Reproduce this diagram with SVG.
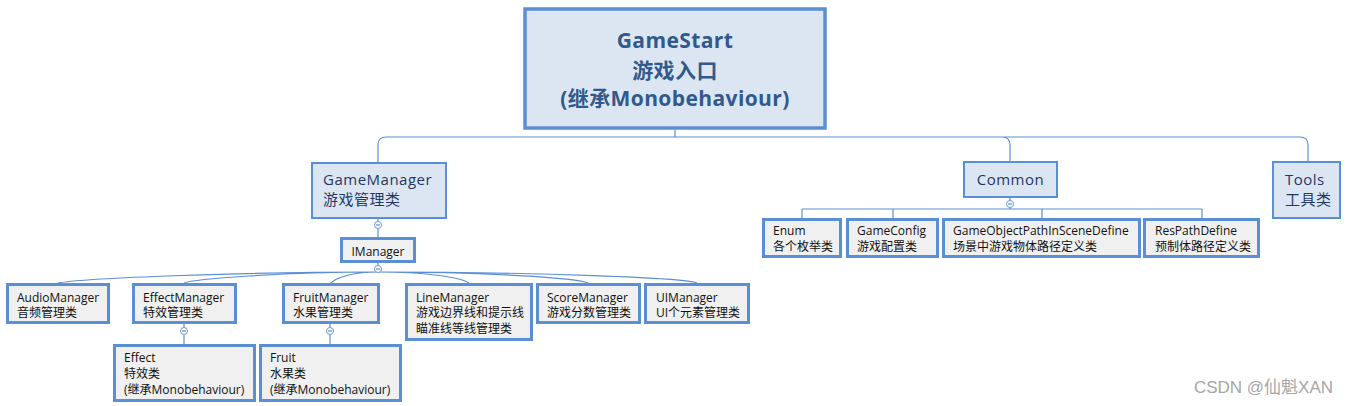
<svg xmlns="http://www.w3.org/2000/svg" width="1348" height="406" viewBox="0 0 1348 406">
<style>
.root{fill:#dce6f2;stroke:#5b8fd5;stroke-width:3.5}
.l1{fill:#dce6f2;stroke:#5b8fd5;stroke-width:2}
.leaf{fill:#f0f0f0;stroke:#5b8fd5;stroke-width:3}
.rt{font-family:"Open Sans","Noto Sans CJK SC",sans-serif;font-weight:bold;font-size:21px;fill:#31598c;text-anchor:middle;letter-spacing:0.4px}
.t1{font-family:"Open Sans","Noto Sans CJK SC",sans-serif;font-size:15px;fill:#1f3864;letter-spacing:0.5px}
.t2{font-family:"Open Sans","Noto Sans CJK SC",sans-serif;font-size:12px;fill:#111}
.cn{fill:none;stroke:#5b8fd5;stroke-width:1.2}
.knob{fill:#fff;stroke:#6b9ad8;stroke-width:1}
.wm{font-family:"Liberation Sans","Noto Sans CJK SC",sans-serif;font-size:17px;fill:#a6a6a6;text-anchor:end}
</style>
<g id="connectors">
<path class="cn" d="M675 130V137M386 137H1300M378 162V145Q378 137 386 137M1002 137Q1010 137 1010 145V161M1300 137Q1308 137 1308 145V161"/>
<path class="cn" d="M378 219V237M378 263V270"/>
<path class="cn" d="M378 272C218 272 78 279 58 283M378 272C281 272 194 279 184 283M378 272C355 272 336 277 331 283M378 272C424 272 460 277 469 283M378 272C483 272 578 278 588 283M378 272C538 272 687 278 697 283"/>
<path class="cn" d="M184 324V344M330 324V344"/>
<path class="cn" d="M1010 198V209M802 209H1202M802 209V218M893 209V218M1042 209V218M1202 209V218"/>
<g>
<circle class="knob" cx="378" cy="225" r="3.5"/><path class="cn" d="M376 225H380"/>
<circle class="knob" cx="378" cy="269" r="3.5"/><path class="cn" d="M376 269H380"/>
<circle class="knob" cx="184" cy="331" r="3.5"/><path class="cn" d="M182 331H186"/>
<circle class="knob" cx="330" cy="331" r="3.5"/><path class="cn" d="M328 331H332"/>
<circle class="knob" cx="1010" cy="204" r="3.5"/><path class="cn" d="M1008 204H1012"/>
</g>
</g>
<g id="GameStart">
<rect class="root" x="525" y="9" width="300" height="119"/>
<text class="rt" x="675" y="48">GameStart</text>
<text class="rt" x="675" y="78">游戏入口</text>
<text class="rt" x="675" y="106">(继承Monobehaviour)</text>
</g>
<g id="GameManager">
<rect class="l1" x="312" y="163" width="134" height="55"/>
<text class="t1" x="323" y="185">GameManager</text>
<text class="t1" x="323" y="205">游戏管理类</text>
</g>
<g id="IManager">
<rect class="leaf" x="341.5" y="238.5" width="73" height="23"/>
<text class="t2" x="378" y="256" text-anchor="middle">IManager</text>
</g>
<g id="AudioManager">
<rect class="leaf" x="7.5" y="284.5" width="101" height="38"/>
<text class="t2" x="17" y="302">AudioManager</text>
<text class="t2" x="17" y="317">音频管理类</text>
</g>
<g id="EffectManager">
<rect class="leaf" x="133.5" y="284.5" width="102" height="38"/>
<text class="t2" x="143" y="302">EffectManager</text>
<text class="t2" x="143" y="317">特效管理类</text>
</g>
<g id="FruitManager">
<rect class="leaf" x="283.5" y="284.5" width="95" height="38"/>
<text class="t2" x="293" y="302">FruitManager</text>
<text class="t2" x="293" y="317">水果管理类</text>
</g>
<g id="LineManager">
<rect class="leaf" x="406.5" y="284.5" width="125" height="55"/>
<text class="t2" x="416" y="302">LineManager</text>
<text class="t2" x="416" y="317">游戏边界线和提示线</text>
<text class="t2" x="416" y="333">瞄准线等线管理类</text>
</g>
<g id="ScoreManager">
<rect class="leaf" x="537.5" y="284.5" width="102" height="38"/>
<text class="t2" x="547" y="302">ScoreManager</text>
<text class="t2" x="547" y="317">游戏分数管理类</text>
</g>
<g id="UIManager">
<rect class="leaf" x="645.5" y="284.5" width="103" height="38"/>
<text class="t2" x="656" y="302">UIManager</text>
<text class="t2" x="656" y="317">UI个元素管理类</text>
</g>
<g id="Effect">
<rect class="leaf" x="114.5" y="345.5" width="140" height="55"/>
<text class="t2" x="124" y="362">Effect</text>
<text class="t2" x="124" y="378">特效类</text>
<text class="t2" x="124" y="394">(继承Monobehaviour)</text>
</g>
<g id="Fruit">
<rect class="leaf" x="260.5" y="345.5" width="140" height="55"/>
<text class="t2" x="270" y="362">Fruit</text>
<text class="t2" x="270" y="378">水果类</text>
<text class="t2" x="270" y="394">(继承Monobehaviour)</text>
</g>
<g id="Common">
<rect class="l1" x="964" y="162" width="93" height="35"/>
<text class="t1" x="1010.5" y="185" text-anchor="middle">Common</text>
</g>
<g id="Tools">
<rect class="l1" x="1273" y="162" width="67" height="56"/>
<text class="t1" x="1285" y="185">Tools</text>
<text class="t1" x="1285" y="205">工具类</text>
</g>
<g id="Enum">
<rect class="leaf" x="763.5" y="219.5" width="77" height="37"/>
<text class="t2" x="773" y="235">Enum</text>
<text class="t2" x="773" y="251">各个枚举类</text>
</g>
<g id="GameConfig">
<rect class="leaf" x="847.5" y="219.5" width="90" height="37"/>
<text class="t2" x="857" y="235">GameConfig</text>
<text class="t2" x="857" y="251">游戏配置类</text>
</g>
<g id="GameObjectPathInSceneDefine">
<rect class="leaf" x="943.5" y="219.5" width="196" height="37"/>
<text class="t2" x="953" y="235">GameObjectPathInSceneDefine</text>
<text class="t2" x="953" y="251">场景中游戏物体路径定义类</text>
</g>
<g id="ResPathDefine">
<rect class="leaf" x="1144.5" y="219.5" width="114" height="37"/>
<text class="t2" x="1155" y="235">ResPathDefine</text>
<text class="t2" x="1155" y="251">预制体路径定义类</text>
</g>
<text class="wm" x="1333" y="393">CSDN @仙魁XAN</text>
</svg>
